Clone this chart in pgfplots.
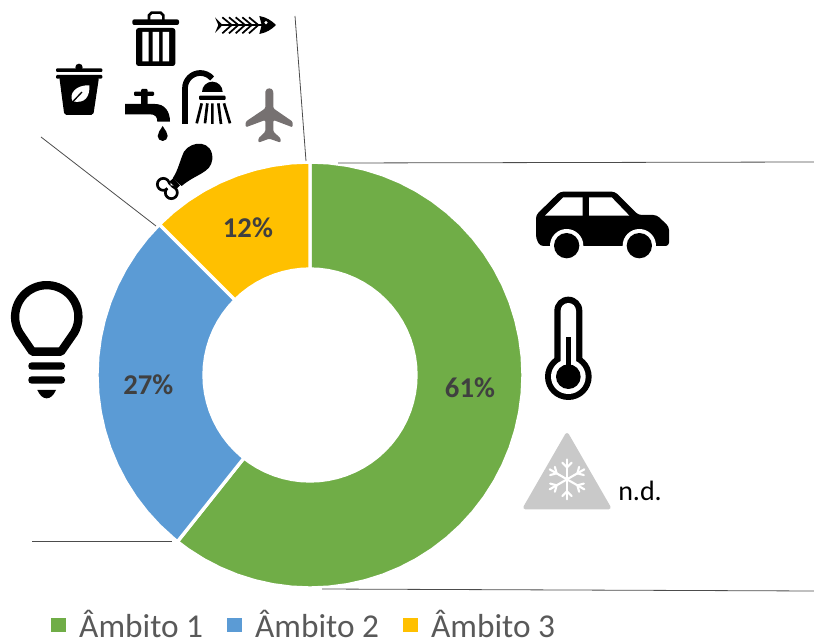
\documentclass[border=0pt]{standalone}
\usepackage{fontspec}
\setmainfont{Carlito}
\usepackage{pgfplots}
\usepgfplotslibrary{polar}
\pgfplotsset{compat=1.18}
\definecolor{gA}{HTML}{70AD47}
\definecolor{bA}{HTML}{5B9BD5}
\definecolor{yA}{HTML}{FFC000}
\definecolor{tA}{HTML}{404040}
\definecolor{tB}{HTML}{595959}
\definecolor{pl}{HTML}{767171}
\definecolor{tri}{HTML}{C9C9C9}
\begin{document}
\begin{tikzpicture}[x=0.75pt,y=-0.75pt]
\useasboundingbox (0,0) rectangle (814,641);
\begin{polaraxis}[
  at={(232.5pt,-281.25pt)},anchor=center,
  scale only axis,width=319.5pt,height=319.5pt,
  xmin=0,xmax=360,ymin=0,ymax=213,
  hide axis,clip=false,
  legend style={draw=none,fill=none,at={(0.487,-0.087)},anchor=center,legend columns=3,
    inner sep=0pt,font=\fontsize{25}{27}\selectfont,text=tB,
    /tikz/every odd column/.style={column sep=8pt},
    /tikz/every even column/.style={column sep=16pt}},
  legend image code/.code={\fill[#1,draw=none] (0pt,-5.5pt) rectangle (11pt,5.5pt);},
]
% Ambito 1: 61 %
\addplot[fill=gA,draw=white,line width=2.5pt] coordinates {
(90,213)(85,213)(80,213)(75,213)(70,213)(65,213)(60,213)(55,213)(50,213)(45,213)(40,213)(35,213)(30,213)(25,213)(20,213)(15,213)(10,213)(5,213)(0,213)
(-5,213)(-10,213)(-15,213)(-20,213)(-25,213)(-30,213)(-35,213)(-40,213)(-45,213)(-50,213)(-55,213)(-60,213)(-65,213)(-70,213)(-75,213)(-80,213)(-85,213)(-90,213)
(-95,213)(-100,213)(-105,213)(-110,213)(-115,213)(-120,213)(-125,213)(-128.5,213)
(-128.5,106)(-125,106)(-120,106)(-115,106)(-110,106)(-105,106)(-100,106)(-95,106)(-90,106)(-85,106)(-80,106)(-75,106)(-70,106)(-65,106)(-60,106)(-55,106)(-50,106)(-45,106)(-40,106)
(-35,106)(-30,106)(-25,106)(-20,106)(-15,106)(-10,106)(-5,106)(0,106)(5,106)(10,106)(15,106)(20,106)(25,106)(30,106)(35,106)(40,106)(45,106)(50,106)(55,106)(60,106)(65,106)(70,106)(75,106)(80,106)(85,106)(90,106)
} -- cycle;
\addlegendentry{Âmbito 1}
% Ambito 2: 27 %
\addplot[fill=bA,draw=white,line width=2.5pt] coordinates {
(135,213)(140,213)(145,213)(150,213)(155,213)(160,213)(165,213)(170,213)(175,213)(180,213)(185,213)(190,213)(195,213)(200,213)(205,213)(210,213)(215,213)(220,213)(225,213)(230,213)(231.5,213)
(231.5,106)(230,106)(225,106)(220,106)(215,106)(210,106)(205,106)(200,106)(195,106)(190,106)(185,106)(180,106)(175,106)(170,106)(165,106)(160,106)(155,106)(150,106)(145,106)(140,106)(135,106)
} -- cycle;
\addlegendentry{Âmbito 2}
% Ambito 3: 12 %
\addplot[fill=yA,draw=white,line width=2.5pt] coordinates {
(90,213)(95,213)(100,213)(105,213)(110,213)(115,213)(120,213)(125,213)(130,213)(135,213)
(135,106)(130,106)(125,106)(120,106)(115,106)(110,106)(105,106)(100,106)(95,106)(90,106)
} -- cycle;
\addlegendentry{Âmbito 3}
\node[text=tA,font=\fontsize{21.5}{24}\selectfont\bfseries] at (axis cs:-4.6,160.5) {61\%};
\node[text=tA,font=\fontsize{21.5}{24}\selectfont\bfseries] at (axis cs:183.5,162) {27\%};
\node[text=tA,font=\fontsize{21.5}{24}\selectfont\bfseries] at (axis cs:112.9,159.5) {12\%};
\end{polaraxis}
% leader lines
\draw[black!70,line width=0.6pt] (295,16)--(306,161);
\draw[black!70,line width=0.6pt] (41,137)--(156,226);
\draw[black!70,line width=0.6pt] (338,163)--(814,162);
\draw[black!70,line width=0.6pt] (322,589)--(814,591);
\draw[black!70,line width=0.6pt] (32,541)--(172,541);
\node[anchor=base west,inner sep=0pt,font=\fontsize{21}{24}\selectfont] at (618,500) {n.d.};
% icons on the right (coordinates in 3x crop units)
\begin{scope}[x=0.25pt,y=-0.25pt,shift={(382.5pt,-127.5pt)}]
 % car
 \fill[rounded corners=2.5pt] (78,135)--(150,65)--(315,65)--(385,135)--(440,135)--(477,170)--(477,228)--(90,228)--(78,205)--cycle;
 \fill[white] (170,227) circle[radius=50] (388,227) circle[radius=50];
 \fill (170,227) circle[radius=38] (388,227) circle[radius=38];
 \fill[white] (105,137)--(160,82)--(218,82)--(218,137)--cycle (237,82)--(305,82)--(358,137)--(237,137)--cycle;
 % thermometer
 \fill (133,422) arc[start angle=180,end angle=360,radius=42] -- (217,600) -- (133,600) -- cycle;
 \fill (175,620) circle[radius=70];
 \fill[white] (152,422) arc[start angle=180,end angle=360,radius=23] -- (198,600) -- (152,600) -- cycle;
 \fill[white] (175,620) circle[radius=52];
 \fill (175,620) circle[radius=37];
 \fill (167,500) rectangle (182,610);
 % triangle with snowflake
 \fill[tri,draw=tri,line width=3pt,line join=round] (171,795)--(296,1012)--(46,1012)--cycle;
 \begin{scope}[white,line width=1.6pt,line cap=round]
  \foreach \a in {30,90,150,210,270,330}{
   \draw (171,928) -- ++(\a:60);
   \draw (171,928) ++(\a:36) -- ++(\a+45:20);
   \draw (171,928) ++(\a:36) -- ++(\a-45:20);
  }
 \end{scope}
\end{scope}
% bulb
\begin{scope}[x=0.25pt,y=-0.25pt,shift={(0pt,-202.5pt)}]
 \draw[line width=6.25pt,line join=round] (97,245)--(58,188) arc[start angle=150,end angle=390,radius=95] -- (183,245) -- cycle;
 \fill[rounded corners=2.5pt] (85,277) rectangle (195,299);
 \fill[rounded corners=2.5pt] (85,319) rectangle (195,341);
 \fill (112,360)--(168,360) .. controls (160,378) and (150,385) .. (140,385) .. controls (130,385) and (120,378) .. cycle;
\end{scope}
% top-left icons
\begin{scope}[x=0.25pt,y=-0.25pt]
 % trash
 \draw[line width=2pt] (447,60)--(447,46)--(455,38)--(482,38)--(490,46)--(490,60);
 \fill[rounded corners=1.5pt] (397,58) rectangle (537,75);
 \fill[rounded corners=2pt] (408,84) rectangle (526,198);
 \fill[white] (427,96) rectangle (446,184) (458,96) rectangle (477,184) (488,96) rectangle (507,184);
 % fish
 \fill (645,52)--(668,75)--(645,99)--(655,75)--cycle;
 \draw[line width=1pt] (655,75)--(790,75);
 \begin{scope}[line width=1.3pt]
  \foreach \q in {695,715,735,755,775}{\draw (\q-28,52)--(\q,75)--(\q-28,100);}
 \end{scope}
 \fill (778,48) .. controls (800,52) and (815,62) .. (828,75) .. controls (815,88) and (800,98) .. (778,102) -- (785,75) -- cycle;
 \fill[white] (798,68) circle[radius=5];
 % bucket
 \fill (237,202) circle[radius=11];
 \fill[rounded corners=0.8pt] (168,205) rectangle (307,216);
 \fill[rounded corners=0.8pt] (168,225) rectangle (307,236);
 \fill[rounded corners=1.5pt] (178,232)--(297,232)--(280,345)--(193,345)--cycle;
 \fill[white] (268,256) .. controls (228,254) and (205,282) .. (218,304) .. controls (255,312) and (270,290) .. cycle;
 \draw[line width=1pt] (210,314)--(246,276);
 % faucet
 \fill[rounded corners=0.8pt] (402,275) rectangle (462,288);
 \fill[rounded corners=0.8pt] (423,267) rectangle (443,315);
 \fill (375,312)--(465,312) .. controls (495,312) and (510,335) .. (510,365)--(472,365) .. controls (472,350) and (465,343) .. (450,343)--(375,343)--cycle;
 \fill (488,378) .. controls (480,392) and (473,398) .. (473,408) arc[start angle=180,delta angle=-180,radius=15] .. controls (503,398) and (496,392) .. cycle;
 % shower
 \draw[line width=4.3pt] (555,372)--(555,265) arc[start angle=180,end angle=320,radius=46];
 \fill (606,276) arc[start angle=180,end angle=360,radius=31] -- cycle;
 \fill[rounded corners=0.8pt] (597,287) rectangle (677,300);
 \begin{scope}[line width=2pt]
  \draw (605,310)--(590,370) (622,310)--(615,370) (637,310)--(637,372) (655,310)--(663,372) (672,310)--(690,370);
 \end{scope}
 % plane
 \fill[pl,rounded corners=1pt] (796,278) .. controls (798,262) and (818,262) .. (820,278) -- (820,325) -- (878,365) -- (878,382) -- (820,360) -- (820,395) -- (842,415) -- (842,428) -- (808,416) -- (775,428) -- (775,415) -- (796,395) -- (796,360) -- (737,382) -- (737,365) -- (796,325) -- cycle;
 % drumstick
 \fill (552,455) .. controls (575,420) and (640,420) .. (637,478) .. controls (632,520) and (590,520) .. (545,558) -- (518,535) .. controls (535,510) and (540,480) .. cycle;
 \draw[line width=2pt,fill=white] (490,553) circle[radius=18];
 \draw[line width=2pt,fill=white] (514,578) circle[radius=18];
 \fill (520,535)--(540,556)--(530,566)--(508,545)--cycle;
 \fill[white] (500,548)--(520,568)--(514,575)--(492,555)--cycle;
\end{scope}
\end{tikzpicture}
\end{document}
